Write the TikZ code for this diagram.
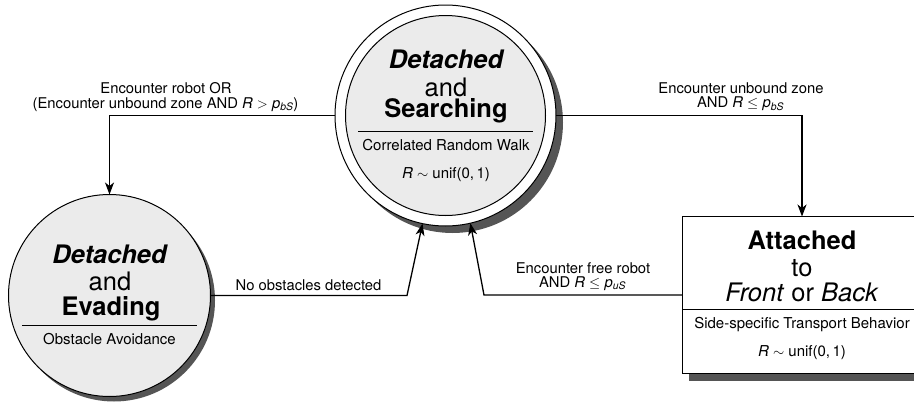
\documentclass[tikz,border=0pt]{standalone}
\usepackage{fontspec}
\usepackage{amsmath}
\setmainfont{TeX Gyre Heros}
\usetikzlibrary{arrows.meta,shadows}
\definecolor{stfill}{HTML}{EBEBEB}
\definecolor{shad}{HTML}{555555}
\tikzset{
  big/.style={font=\fontsize{25.5}{28}\selectfont, anchor=base, inner sep=0pt},
  small/.style={font=\fontsize{15}{16}\selectfont, anchor=base, inner sep=0pt},
  lbl/.style={font=\fontsize{14.8}{16}\selectfont, anchor=base, inner sep=0pt},
  sep/.style={line width=1pt},
  arr/.style={line width=1.3pt, -{Stealth[length=12pt,width=9pt,inset=3.5pt]}},
  dshadow/.style={drop shadow={shadow xshift=7pt, shadow yshift=-7pt, fill=shad, opacity=1}},
}
\begin{document}
\begin{tikzpicture}[x=1pt,y=-1pt]
\useasboundingbox (0,0) rectangle (914,405);
\clip (0,0) rectangle (914,405);
\fill[white] (0,0) rectangle (914,405);
% Searching state
\node[circle, draw, line width=1pt, fill=white, minimum size=221pt, inner sep=0pt, outer sep=0pt, dshadow] (S) at (445.5,115.5) {};
\node[circle, draw, line width=1pt, fill=stfill, minimum size=200pt, inner sep=0pt, outer sep=0pt] (Si) at (445.5,115.5) {};
% Evading state
\node[circle, draw, line width=1pt, fill=stfill, minimum size=202pt, inner sep=0pt, outer sep=0pt,
  drop shadow={shadow xshift=4.5pt, shadow yshift=-5pt, fill=shad, opacity=1}] (E) at (109.5,295.5) {};
% Attached state (its right side lies beyond the page edge)
\node[rectangle, fill=white, minimum width=240pt, minimum height=157pt, inner sep=0pt, outer sep=0pt, dshadow] (B) at (802,295) {};
\draw[line width=1pt] (B.north east) -- (B.north west) -- (B.south west) -- (B.south east);

% texts in S
\node[big] (s1) at (446,68.3) {\bfseries\itshape Detached};
\node[big] (s2) at (446,96.5) {and};
\node[big] (s3) at (446,117.5) {\bfseries Searching};
\draw[sep] (358,131.7) -- (533,131.7);
\node[small] (s4) at (446,150.7) {Correlated Random Walk};
\node[small] (s5) at (446,178) {\textit{R} $\sim$ unif(0,\,1)};

% texts in E
\node[big] (e1) at (109.5,263.3) {\bfseries\itshape Detached};
\node[big] (e2) at (110,290) {and};
\node[big] (e3) at (111,315) {\bfseries Evading};
\draw[sep] (22,325.7) -- (197,325.7);
\node[small] (e4) at (109.5,344.3) {Obstacle Avoidance};

% texts in B
\node[big] (b1) at (802,249.3) {\bfseries Attached};
\node[big] (b2) at (802,276) {to};
\node[big] (b3) at (802,301) {\textit{Front} or \textit{Back}};
\draw[sep] (B.west |- 0,309) -- (B.east |- 0,309);
\node[small] (b4) at (802,328.3) {Side-specific Transport Behavior};
\node[small] (b5) at (802,356.5) {\textit{R} $\sim$ unif(0,\,1)};

% connectors
\draw[arr] (S.west) -| (E.north);
\draw[arr] (S.east) -| (B.north);
\draw[arr] (E.east) -- ++(196.5,0) -- (S.-102.7);
\draw[arr] (B.west) -- ++(-198,0) -- (S.-77.3);

% labels
\node[lbl] (l1a) at (166,93.8) {Encounter robot OR};
\node[lbl] (l1b) at (165.5,108) {(Encounter unbound zone AND \textit{R} $>$ \textit{p}$_{\textit{bS}}$)};
\node[lbl] (l2a) at (741,93.5) {Encounter unbound zone};
\node[lbl] (l2b) at (740.5,107.5) {AND \textit{R} $\leq$ \textit{p}$_{\textit{bS}}$};
\node[lbl] (l3) at (308.5,290.7) {No obstacles detected};
\node[lbl] (l4a) at (583,273.3) {Encounter free robot};
\node[lbl] (l4b) at (582.5,287) {AND \textit{R} $\leq$ \textit{p}$_{\textit{uS}}$};
\end{tikzpicture}
\end{document}
